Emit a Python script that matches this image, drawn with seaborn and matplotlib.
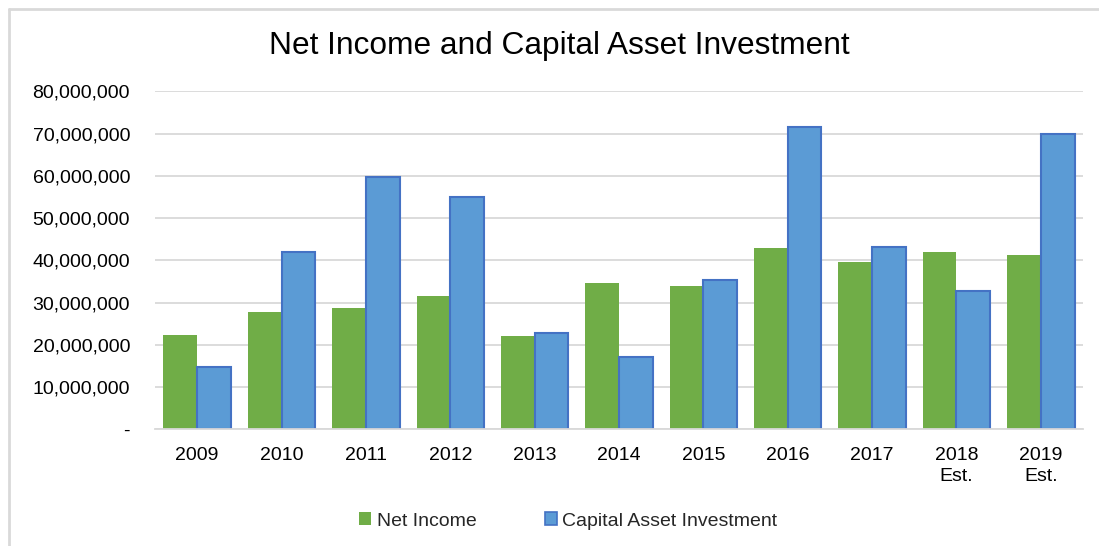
import matplotlib
matplotlib.use("Agg")
import matplotlib.pyplot as plt
import matplotlib.ticker as mticker
from matplotlib.lines import Line2D
from matplotlib.patches import Patch
import pandas as pd
import seaborn as sns

years = ["2009", "2010", "2011", "2012", "2013", "2014", "2015", "2016",
         "2017", "2018\nEst.", "2019\nEst."]
net_income = [22.3e6, 27.8e6, 28.8e6, 31.6e6, 22.1e6, 34.6e6, 34.0e6,
              42.8e6, 39.5e6, 42.0e6, 41.3e6]
capital_investment = [14.8e6, 41.9e6, 59.8e6, 54.9e6, 22.7e6, 17.0e6,
                      35.3e6, 71.5e6, 43.2e6, 32.8e6, 70.0e6]
series_names = ["Net Income", "Capital Asset Investment"]

green = "#70AD47"
blue = "#5B9BD5"
blue_edge = "#4472C4"
grid_gray = "#D9D9D9"

df = pd.DataFrame({
    "Year": years * 2,
    "Value": net_income + capital_investment,
    "Series": [series_names[0]] * len(years) + [series_names[1]] * len(years),
})

sns.set_theme(style="white")
plt.rcParams["font.family"] = ["Liberation Sans", "DejaVu Sans"]

fig = plt.figure(figsize=(10.99, 5.46), dpi=100)
ax = fig.add_axes([155 / 1099, 1 - 429.3 / 546, (1083 - 155) / 1099, (429.3 - 91.3) / 546])

sns.barplot(data=df, x="Year", y="Value", hue="Series", order=years,
            hue_order=series_names, palette=[green, blue], width=0.8,
            saturation=1, ax=ax, legend=False)

# outline only the investment bars
n = len(years)
for i, bar in enumerate(ax.patches[:2 * n]):
    if i >= n:
        bar.set_edgecolor(blue_edge)
        bar.set_linewidth(1.5)
    else:
        bar.set_edgecolor("none")
        bar.set_linewidth(0)

ax.set_ylim(0, 80e6)
ax.set_xlim(-0.5, n - 0.5)
ax.yaxis.set_major_locator(mticker.MultipleLocator(10e6))
ax.yaxis.set_major_formatter(
    mticker.FuncFormatter(lambda v, p: "-" if v == 0 else f"{v:,.0f}"))
ax.grid(axis="y", color=grid_gray, linewidth=1.3)
ax.set_axisbelow(True)
for s in ["top", "right", "left"]:
    ax.spines[s].set_visible(False)
ax.spines["bottom"].set_color(grid_gray)
ax.spines["bottom"].set_linewidth(1.3)
ax.tick_params(axis="both", length=0, labelsize=14, colors="#000000")
ax.tick_params(axis="y", pad=18)
ax.tick_params(axis="x", pad=13)
for lbl in ax.get_xticklabels():
    lbl.set_linespacing(1.3)
ax.set_xlabel("")
ax.set_ylabel("")

fig.text(0.509, 1 - 46 / 546, "Net Income and Capital Asset Investment",
         ha="center", va="center", fontsize=22.8, color="#000000")

handles = [Patch(facecolor=green, edgecolor="none"),
           Patch(facecolor=blue, edgecolor=blue_edge, linewidth=1.2)]
fig.legend(handles, series_names, loc="center", ncol=2,
           bbox_to_anchor=(0.517, 1 - 521 / 546), frameon=False,
           fontsize=14, handlelength=0.62, handleheight=0.62,
           handletextpad=0.3, columnspacing=3.5)

# chart area border
fig.add_artist(Line2D([9 / 1099, 1.0], [1 - 9 / 546] * 2,
                      transform=fig.transFigure, color=grid_gray, linewidth=2))
fig.add_artist(Line2D([9 / 1099] * 2, [0.0, 1 - 9 / 546],
                      transform=fig.transFigure, color=grid_gray, linewidth=2))

fig.savefig("out.png", dpi=100, facecolor="white")
